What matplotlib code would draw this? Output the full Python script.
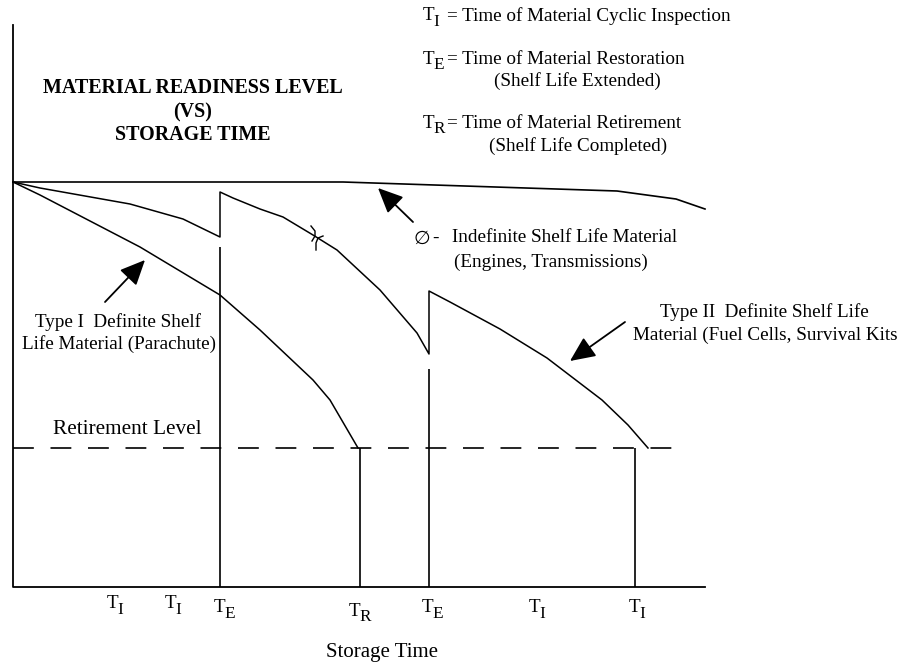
import matplotlib.pyplot as plt

plt.rcParams['font.family'] = ['Liberation Serif', 'DejaVu Sans']

W, H = 903, 669

# schematic, in picture units (x right, y down)
axis_x = [13, 13, 705]
axis_y = [25, 587, 587]

retire_x = [13, 688]
retire_y = [448, 448]

indef_x = [13, 343, 617, 676, 705]
indef_y = [182, 182, 191, 199, 209]

# type II curve with two restorations (saw tooth)
t2_x = [13, 40, 130, 183, 220, 220, 233, 260, 283, 313, 337, 380, 417, 429, 429, 450, 500, 547, 602, 628, 648]
t2_y = [182, 188, 204, 219, 237, 192, 198, 209, 217, 235, 250, 290, 333, 354, 291, 302, 329, 358, 400, 425, 448]

# type I curve (parachute)
t1_x = [13, 40, 140, 220, 260, 313, 330, 358]
t1_y = [182, 195, 247, 295, 330, 380, 400, 448]

# break marks on the type II curve
brk1_x = [311, 315, 315, 312]
brk1_y = [226, 231, 236, 241]
brk2_x = [323, 318, 316, 316]
brk2_y = [236, 238, 243, 250]

# vertical markers: x, top, bottom
vlines_x = [220, 360, 429, 635]
vlines_top = [247, 448, 369, 448]
vlines_bot = [587, 587, 587, 587]

tick_x = [107, 165, 214, 349, 422, 529, 629]
tick_y = [604, 604, 608, 611, 608, 608, 608]
tick_sub = ['I', 'I', 'E', 'R', 'E', 'I', 'I']

fs = 13.8

fig = plt.figure(figsize=(W / 100, H / 100), dpi=100)
ax = fig.add_axes([0, 0, 1, 1])
ax.set_xlim(0, W)
ax.set_ylim(H, 0)
ax.axis('off')


def t_label(x, y, s):
    ax.text(x, y, 'T', fontsize=fs, ha='left', va='center')
    ax.text(x + 10, y + 6, s, fontsize=fs * 0.9, ha='left', va='center')


ax.plot(axis_x, axis_y, color='black', lw=1.3)
ax.plot(retire_x, retire_y, color='black', lw=1.2, linestyle=(0, (12.5, 10)))
ax.plot(indef_x, indef_y, color='black', lw=1.2)
ax.plot(t2_x, t2_y, color='black', lw=1.1)
ax.plot(t1_x, t1_y, color='black', lw=1.1)
ax.plot(brk1_x, brk1_y, color='black', lw=1.0)
ax.plot(brk2_x, brk2_y, color='black', lw=1.0)
ax.vlines(vlines_x, vlines_top, vlines_bot, color='black', lw=1.2)

for x, y, s in zip(tick_x, tick_y, tick_sub):
    t_label(x, y, s)
ax.text(382, 653, 'Storage Time', fontsize=15, ha='center', va='center')

ax.text(193, 88, 'MATERIAL READINESS LEVEL', fontsize=14.4, fontweight='bold', ha='center', va='center')
ax.text(193, 112, '(VS)', fontsize=14.4, fontweight='bold', ha='center', va='center')
ax.text(193, 135, 'STORAGE TIME', fontsize=14.4, fontweight='bold', ha='center', va='center')

t_label(423, 16, 'I')
ax.text(447, 16, '= Time of Material Cyclic Inspection', fontsize=fs, ha='left', va='center')
t_label(423, 59, 'E')
ax.text(447, 59, '= Time of Material Restoration', fontsize=fs, ha='left', va='center')
ax.text(577, 81, '(Shelf Life Extended)', fontsize=fs, ha='center', va='center')
t_label(423, 123, 'R')
ax.text(447, 123, '= Time of Material Retirement', fontsize=fs, ha='left', va='center')
ax.text(578, 146, '(Shelf Life Completed)', fontsize=fs, ha='center', va='center')

ax.text(414, 238, '\u2205', fontsize=fs, ha='left', va='center', family=['DejaVu Sans'])
ax.text(432, 238, '-', fontsize=fs, ha='left', va='center')
ax.text(452, 238, 'Indefinite Shelf Life Material', fontsize=fs, ha='left', va='center')
ax.text(551, 262, '(Engines, Transmissions)', fontsize=fs, ha='center', va='center')

ax.text(118, 322, 'Type I  Definite Shelf', fontsize=fs, ha='center', va='center')
ax.text(119, 344, 'Life Material (Parachute)', fontsize=fs, ha='center', va='center')

ax.text(764, 312, 'Type II  Definite Shelf Life', fontsize=fs, ha='center', va='center')
ax.text(633, 335, 'Material (Fuel Cells, Survival Kits', fontsize=fs, ha='left', va='center')

ax.text(127, 429, 'Retirement Level', fontsize=15.3, ha='center', va='center')

arrow = dict(arrowstyle='-|>,head_length=1.1,head_width=0.5', color='black', lw=1.3,
             shrinkA=0, shrinkB=0, mutation_scale=14)
ax.annotate('', xy=(378, 188), xytext=(413, 222), arrowprops=arrow)
ax.annotate('', xy=(145, 260), xytext=(105, 302), arrowprops=arrow)
ax.annotate('', xy=(570, 361), xytext=(625, 322), arrowprops=arrow)

plt.savefig('out.png', dpi=100)
